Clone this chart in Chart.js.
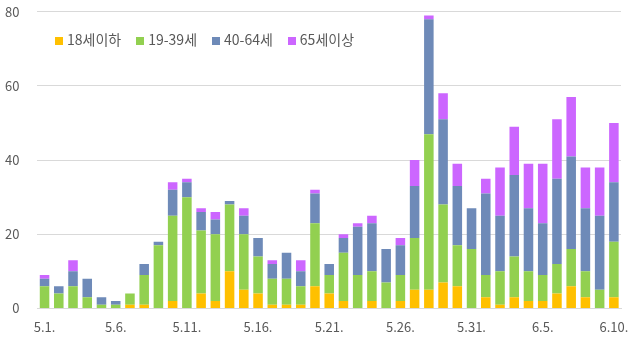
<!DOCTYPE html>
<html>
<head>
<meta charset="utf-8">
<script src="https://cdn.jsdelivr.net/npm/chart.js@4"></script>
<style>
  html, body { margin: 0; padding: 0; background: #fff; }
  #wrap { position: relative; width: 638px; height: 342px; }
  #legend { position: absolute; left: 55px; top: 29px; font-family: "Noto Sans CJK KR", sans-serif; font-size: 14px; color: #595959; white-space: nowrap; }
  #legend span.item { display: inline-block; margin-right: 15px; }
  #legend span.box { display: inline-block; width: 8px; height: 8px; margin-right: 4px; }
</style>
</head>
<body>
<div id="wrap">
  <canvas id="chart" width="638" height="342"></canvas>
  <div id="legend"></div>
</div>
<script>
// dates 5.1. ~ 6.10.
const dates = [
  "5.1.", "5.2.", "5.3.", "5.4.", "5.5.", "5.6.", "5.7.", "5.8.", "5.9.", "5.10.",
  "5.11.", "5.12.", "5.13.", "5.14.", "5.15.", "5.16.", "5.17.", "5.18.", "5.19.", "5.20.",
  "5.21.", "5.22.", "5.23.", "5.24.", "5.25.", "5.26.", "5.27.", "5.28.", "5.29.", "5.30.",
  "5.31.", "6.1.", "6.2.", "6.3.", "6.4.", "6.5.", "6.6.", "6.7.", "6.8.", "6.9.", "6.10."
];

const seriesNames = ["18세이하", "19-39세", "40-64세", "65세이상"];
const seriesColors = ["#FFC000", "#92D050", "#6E8AB8", "#CC66FF"];

const under18 = [0,0,0,0,0,0,1,1,0,2, 0,4,2,10,5,4,1,1,1,6, 4,2,0,2,0,2,5,5,7,6, 0,3,1,3,2,2,4,6,3,0,3];
const age19to39 = [6,4,6,3,1,1,3,8,17,23, 30,17,18,18,15,10,7,7,5,17, 5,13,9,8,7,7,14,42,21,11, 16,6,9,11,8,7,8,10,7,5,15];
const age40to64 = [2,2,4,5,2,1,0,3,1,7, 4,5,4,1,5,5,4,7,4,8, 3,4,13,13,9,8,14,31,23,16, 11,22,15,22,17,14,23,25,17,20,16];
const over65 = [1,0,3,0,0,0,0,0,0,2, 1,1,2,0,2,0,1,0,3,1, 0,1,1,2,0,2,7,1,7,6, 0,4,13,13,12,16,16,16,11,13,16];

const yTicks = [0, 20, 40, 60, 80];

const allSeries = [under18, age19to39, age40to64, over65];

const datasets = allSeries.map((vals, i) => ({
  label: seriesNames[i],
  data: vals,
  backgroundColor: seriesColors[i],
  borderWidth: 0,
  categoryPercentage: 1,
  barPercentage: 0.67,
}));

const tickFont = { family: "'Noto Sans CJK KR', sans-serif", size: 13 };

new Chart(document.getElementById("chart"), {
  type: "bar",
  data: { labels: dates, datasets },
  options: {
    responsive: false,
    animation: false,
    layout: { padding: { left: 1, right: 17, top: 0, bottom: 4 } },
    plugins: {
      legend: { display: false },
      tooltip: { enabled: false },
    },
    scales: {
      x: {
        stacked: true,
        grid: { display: false },
        border: { display: true, color: "#D9D9D9" },
        ticks: {
          autoSkip: false,
          maxRotation: 0,
          color: "#595959",
          font: tickFont,
          padding: 3,
          callback: function (value, index) {
            return index % 5 === 0 ? dates[index] : "";
          },
        },
      },
      y: {
        stacked: true,
        min: yTicks[0],
        max: yTicks[yTicks.length - 1],
        // tick marks kept invisible, only used for the gap next to the labels
        grid: { color: "#D9D9D9", tickLength: 14, tickColor: "rgba(0,0,0,0)" },
        border: { display: false },
        ticks: {
          stepSize: 20,
          color: "#595959",
          font: tickFont,
          padding: 4,
        },
      },
    },
  },
});

// legend drawn as html, sitting inside the plot like the original
const legendEl = document.getElementById("legend");
seriesNames.forEach((name, i) => {
  const item = document.createElement("span");
  item.className = "item";
  const box = document.createElement("span");
  box.className = "box";
  box.style.background = seriesColors[i];
  item.appendChild(box);
  item.appendChild(document.createTextNode(name));
  legendEl.appendChild(item);
});
</script>
</body>
</html>
